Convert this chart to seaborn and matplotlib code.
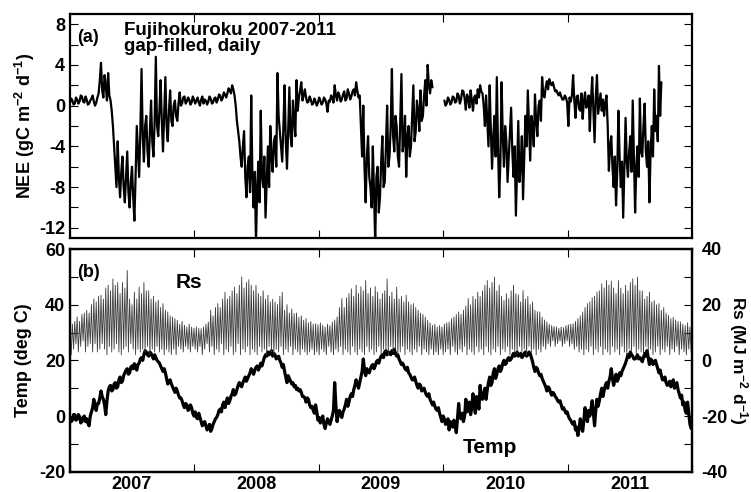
import numpy as np
import pandas as pd
import matplotlib
matplotlib.use("Agg")
import matplotlib.pyplot as plt
import seaborn as sns
from matplotlib.ticker import FixedLocator, FixedFormatter, MultipleLocator, NullFormatter

# ---------------- data (2007-01-01 .. 2011-12-31) ----------------
year_labels = ["2007", "2008", "2009", "2010", "2011"]
year_bounds = [0, 365, 731, 1096, 1461, 1826]
year_mid_days = [182, 548, 913, 1278, 1644]
nan = np.nan

# NEE (gC m-2 d-1): value at the start of each week
nee = [
    0.3, 0.5, 0.2, 0.6, 0.4, 0.9, 0.3, 0.6, 0.2, 0.7, 0.4, 0.3, 1.2,
    4.2, 0.8, 2.0, 3.2, 0.5, -2.0, -6.0, -3.5, -9.0, -5.0, -9.5, -4.5, -10.0, -6.0, -11.3, -2.0,
    -7.0, 3.6, -5.5, -1.0, -6.0, 0.5, -5.0, 4.8, -3.0, 2.5, -4.5, 2.8, -3.5, 1.5, -2.0, 0.5,
    -1.5, 1.3, 0.2, 0.9, 0.4, 0.6, 0.3, 0.6,
    0.5, 0.3, 0.6, 0.2, 0.5, 0.4, 0.7, 0.3, 0.8, 0.6, 1.0, 0.7, 1.1, 1.2, 1.5, 2.0, 1.0,
    -1.5, -3.5, -6.0, -2.5, -9.0, -5.0, 1.0, -10.0, -13.5, -5.5, -0.5, -8.0, -11.0, -4.0,
    -2.0, -6.5, -3.0, 3.2, -2.5,
    -5.5, 2.0, -6.2, 1.8, -4.0, -1.5, 2.5, 0.8, 2.3, 1.0, 0.8, 0.4, 0.6, 0.2, 0.4, 0.3,
    0.5, 0.3, 0.6, -0.6, 0.4, 0.8, 2.0, 0.5, 1.0, 0.6, 1.4, 0.7, 1.2, 0.9, 1.6, 2.3, 0.8,
    -2.0, 0.0, -9.5, -3.0, -8.0, -4.0, -13.5, -6.0, -9.0, -3.0, -7.5, 0.0, -5.0, 3.6, -4.5,
    -2.0, -6.0, 3.1, -3.5, -7.0, -2.0, -4.0, 2.0, -2.5, -0.5, 1.5, -1.0, 2.5, 4.0, 1.2, 1.8,
    nan, nan, nan, nan,
    0.5, 0.2, 0.6, 0.3, 0.8, 0.4, 1.0, 0.6, 1.4, -0.4, 0.8, 1.5, -0.5, 1.0, 1.6, 2.0, 1.2, -2.0,
    -1.5, 2.0, -6.2, -1.0, 2.8, -9.0, 2.3, -6.0, -3.5, -5.0, -0.2, -7.0, -10.8, -1.5, -6.0,
    -9.2, -1.0, 1.5, -5.4, -2.0, 1.1, -3.0, 0.5, 2.8, 0.8, 2.4, 2.6, 2.0, 1.8, 1.5, 1.0, 0.9,
    0.6, 0.8, -2.0, 0.4, 3.0, -1.2, 1.0, -0.5, -1.3, 1.3, 0.2, -2.5, 2.8, -3.6, 3.0, 0.2,
    -0.5, -1.0, 1.0, -6.4, -3.0, -8.0, -9.8, -0.5, -8.0, -11.0, -1.2, -7.0, -3.0, 0.5,
    -10.5, -4.0, 0.7, -5.0, 0.2, -6.0, -9.5, -2.0, 1.6, -1.0, 3.9, 2.3,
    nan, nan, nan, nan, nan, nan, nan, nan, nan, nan, nan, nan,
]
# NEE (gC m-2 d-1): value in the middle of each week
nee_mid = [
    0.7, 0.1, 0.8, 0.2, 1.0, 0.4, 0.9, 0.1, 0.5, 1.0, 0.0, 0.8, 2.5,
    1.5, 3.0, 0.5, 1.0, -0.5, -4.0, -8.0, -7.0, -6.5, -8.0, -7.0, -8.5, -7.5, -9.0, -7.0, -4.5,
    -2.5, -3.0, -2.0, -4.5, -2.5, -3.5, -1.5, -2.0, -0.5, -1.5, -1.0, -2.0, -0.5, -1.5, 0.0, -1.0,
    0.2, 0.0, 0.8, 0.2, 0.8, 0.1, 0.9, 0.2,
    0.8, 0.0, 0.9, 0.6, 0.1, 0.9, 0.2, 0.7, 0.3, 1.1, 0.5, 1.3, 0.8, 1.7, 1.2, 1.6, 0.0,
    -2.5, -5.0, -4.0, -7.0, -6.0, -8.5, -7.0, -6.5, -8.0, -9.5, -7.0, -5.0, -7.5, -8.0,
    -5.0, -3.5, -6.0, -1.0, -4.0,
    -2.0, -3.5, -2.5, -3.0, 0.5, -3.0, -0.5, 1.5, 0.5, 1.6, 0.3, 0.9, 0.1, 0.7, 0.0, 0.8,
    0.1, 0.8, 0.2, 0.5, 1.0, 0.3, 1.0, 1.3, 0.4, 1.1, 0.5, 1.6, 0.6, 1.4, 1.0, 1.5, 1.0,
    -5.0, -6.0, -5.0, -7.0, -10.0, -8.5, -7.0, -10.5, -5.5, -8.0, -4.0, -6.0, -2.0, -3.0, -1.0,
    -5.0, -1.5, -4.5, -1.0, -3.0, -5.0, -1.0, -3.5, 0.5, -2.5, -1.5, 1.0, 0.0, 2.0, 2.5, nan,
    nan, nan, nan, nan,
    0.0, 0.8, 0.1, 0.9, 0.3, 1.2, 0.2, 1.5, 0.7, 1.1, -0.2, 0.6, 0.8, 0.2, 0.8, 1.4, 0.0, 1.0,
    -4.0, -2.5, -3.0, -5.0, -4.0, -5.5, -3.0, -2.0, -7.5, -2.5, -4.5, -4.0, -6.0, -7.5, -3.0,
    -5.0, -4.0, -2.0, -1.0, -4.0, -1.5, 0.0, -1.5, 1.0, 1.8, 1.6, 2.2, 2.3, 1.4, 1.2, 1.3, 0.6,
    1.0, 0.3, 0.8, 1.0, 0.5, 0.9, -0.3, 1.2, 0.4, -0.2, 1.0, 0.5, -0.5, 0.8, -0.8, 1.2,
    0.6, 0.3, -2.0, -4.0, -6.0, -5.0, -6.5, -5.0, -5.5, -6.0, -5.5, -4.5, -6.5, -5.0,
    -6.0, -7.0, -4.5, -2.0, -4.5, -3.5, -4.5, -5.0, -2.5, -3.5, -1.0, nan,
    nan, nan, nan, nan, nan, nan, nan, nan, nan, nan, nan, nan,
]

# Air temperature (deg C): start and middle of each week
temp = [
    -0.5, -1.5, 0.5, -1.0, -0.2, -2.0, 0.0, -1.0, -3.5, 1.5, 6.0, 2.0, 4.5, 9.0, 6.0, 0.5,
    9.0, 11.0, 9.5, 12.0, 10.5, 14.0, 12.5, 15.5, 17.0, 15.5, 18.0, 18.8, 16.5, 19.0, 21.0,
    22.0, 23.0, 21.5, 22.5, 20.5, 21.0, 19.5, 18.0, 16.0, 15.5, 11.5, 13.0, 10.5, 8.5, 9.0,
    6.5, 5.5, 3.0, 4.0, 2.5, 3.0, 0.0,
    -0.5, 1.0, -2.0, -2.5, -3.5, -4.0, -5.5, -3.0, -1.0, 0.5, 2.5, 4.0, 3.0, 6.5, 5.5, 8.0,
    7.5, 9.5, 12.0, 10.5, 13.0, 12.5, 14.5, 17.0, 15.0, 17.5, 16.5, 19.0, 19.5, 22.0, 23.0,
    22.5, 21.5, 22.0, 21.0, 20.0,
    17.5, 16.0, 12.0, 13.5, 11.5, 10.5, 9.5, 9.0, 8.5, 7.0, 5.0, 6.0, 3.0, 2.0, 4.0, -1.5,
    -2.5, 0.0, -4.5, -1.0, -3.0, 0.0, 12.0, -2.0, 2.0, -0.5, 2.5, 6.0, 5.0, 8.0, 9.5, 13.0,
    10.0, 14.0, 20.5, 14.5, 16.0, 17.0, 18.5, 18.0, 20.0, 20.5, 22.0, 23.0, 22.0, 22.5, 23.5,
    24.0, 21.5, 20.5, 18.5, 18.0, 16.5, 15.5, 14.0, 13.0, 12.5, 10.0, 11.0, 9.5, 8.5, 7.0,
    6.0, 4.0, 3.5, 2.0, 1.0, -2.0, -1.0, -2.5, -5.0, -2.5, -1.5, -6.0, 4.5, -1.0, -2.0, 6.0,
    2.0, 0.5, 8.0, 1.0, 5.0, 11.0, 6.0, 10.0,
    9.5, 14.0, 12.0, 17.0, 15.0, 18.0, 17.0, 20.0, 19.0, 21.0, 20.5, 22.5, 22.0, 21.5, 22.5,
    21.5, 23.0, 22.0, 22.5, 19.5, 16.0, 17.0, 14.5, 13.5, 11.5, 9.0, 10.0, 7.5, 8.0, 6.5,
    5.0, 4.0, 3.0, 1.0, 0.0, -1.5, -3.0, -5.0, -7.0, -1.0, -5.5, 3.0, -2.0, 0.0, 5.5, -3.5,
    6.0, 5.5, 10.0, 9.0, 12.0, 12.5, 17.0, 11.0, 15.0, 13.5, 14.5, 17.0, 19.0, 22.0, 23.0,
    21.5, 20.5, 22.0, 21.0, 19.5, 22.5, 23.5, 18.5, 20.0, 19.0, 18.5, 15.5, 14.5, 13.0,
    12.0, 11.5, 10.5, 13.0, 11.0, 9.5, 6.5, 4.0, 2.0, 5.0, -3.0,
]
temp_mid = [
    -2.0, 0.5, -1.5, 0.5, -2.5, -0.5, -2.0, -2.5, 0.0, 3.0, 3.0, 4.5, 6.5, 7.0, 4.0, 5.5,
    10.5, 9.0, 11.5, 10.0, 13.0, 12.0, 14.5, 16.5, 15.0, 17.5, 17.0, 17.5, 18.5, 20.5, 20.0,
    23.5, 22.0, 23.0, 21.5, 22.0, 20.0, 19.0, 17.0, 17.0, 13.5, 12.5, 11.5, 9.5, 10.0, 7.5,
    6.5, 4.0, 4.5, 2.0, 4.0, 1.0, 1.5,
    -1.0, -0.5, -3.5, -2.0, -5.0, -3.0, -4.5, -2.0, -0.5, 2.0, 1.5, 5.0, 5.0, 4.5, 7.0, 9.5,
    8.0, 11.0, 11.0, 12.0, 14.0, 13.5, 15.5, 16.0, 16.5, 18.0, 17.5, 18.0, 21.0, 21.5, 22.0,
    23.5, 22.5, 20.5, 21.5, 19.0,
    18.5, 14.0, 14.5, 12.5, 12.0, 11.0, 10.0, 9.5, 7.0, 6.5, 6.5, 4.0, 3.5, 1.0, 1.5, -0.5,
    -1.5, -3.0, -2.5, -2.0, -1.5, 2.0, 4.0, 0.5, 0.5, 1.5, 4.0, 3.5, 7.0, 7.0, 11.0, 11.5,
    12.0, 16.0, 16.5, 17.0, 15.5, 18.0, 17.0, 19.5, 19.0, 21.5, 21.0, 23.5, 23.0, 22.0, 22.5,
    22.5, 22.0, 19.5, 19.0, 17.0, 17.5, 15.0, 13.0, 14.0, 11.0, 11.5, 9.0, 10.0, 7.5, 8.0,
    5.0, 5.0, 2.5, 3.0, -0.5, 0.0, -3.0, -1.0, -2.0, -4.0, -3.0, -1.0, -0.5, 1.0, 0.0, 1.5,
    5.0, 3.0, 3.5, 7.0, 2.5, 6.5, 8.0, 6.0,
    12.0, 11.0, 15.5, 13.5, 17.0, 16.0, 19.0, 18.5, 20.5, 20.0, 21.5, 21.5, 23.0, 22.0, 21.0,
    22.5, 21.5, 23.0, 21.0, 17.5, 17.5, 15.5, 15.0, 12.5, 10.5, 10.5, 8.5, 8.5, 7.0, 5.5,
    5.5, 2.5, 2.0, 1.5, -1.0, -2.5, -2.0, -4.0, -4.5, -3.5, -1.5, -0.5, 2.0, 2.5, 1.0, 2.0,
    3.5, 8.0, 7.0, 11.0, 10.0, 14.0, 13.5, 13.0, 12.5, 15.5, 16.0, 18.0, 20.5, 21.0, 22.0,
    20.5, 21.0, 20.5, 20.5, 21.0, 21.5, 21.0, 20.5, 18.5, 20.0, 17.0, 16.5, 13.0, 14.0,
    11.0, 12.5, 11.5, 10.0, 12.0, 8.0, 7.5, 5.0, 1.0, 1.0, -4.5,
]

# Solar radiation Rs (MJ m-2 d-1): weekly high (clear) and low (cloudy) values
rs_high = [
    11.4, 13, 14, 15.6, 14, 16.5, 17, 18, 17, 20, 22, 21, 23, 23.4, 22, 26, 27, 25, 29.3, 27,
    28, 24, 28, 26, 32.3, 22, 20, 24.5, 22, 26.3, 24, 28, 25, 25, 22, 23, 21, 21.6, 19, 20.4,
    18, 17.4, 16, 15.6, 15, 14.4, 13, 14, 12.6, 12, 13, 12, 11.5,
    12, 11.5, 11.4, 12, 13, 13.8, 18, 16, 19, 20.4, 19, 22, 24.5, 22, 23, 25, 26.3, 24, 27,
    30, 26, 28, 29, 27, 25, 27, 24, 23, 25, 22, 23.4, 21, 22, 21, 20,
    23, 24.5, 18, 20, 17, 18.5, 16.8, 17, 15.5, 16, 14.4, 15, 13.5, 14, 13, 13.2, 12.8,
    13.5, 12.6, 12, 13, 12.5, 13.8, 14.5, 15.6, 19, 22.2, 19, 22.5, 24, 25.7, 23, 27, 24,
    26.5, 25, 28.7, 24, 26, 23, 26.5, 24.5, 22, 24, 25, 29.3, 23, 24.5, 22, 26.3, 22, 23,
    21, 23.4, 21, 20, 20.4, 19, 18, 17, 16.5, 15.5, 14.4, 13.5, 12.6, 13, 12, 12.5, 12, 13,
    13.5, 13.8, 15, 15.6, 16.5, 17.4, 16.5, 18, 19.5, 22.2, 20, 23, 22, 24.5, 23, 25, 27,
    28.7, 26, 28, 29.9, 25, 27, 23, 21.5, 24, 22.2, 25, 27, 24, 23.5, 21, 25.1, 22, 23, 20,
    21, 18, 17.5, 17.4, 15.5, 14.5, 13.8, 13, 12.5, 12.2, 12, 11.5, 12, 11.8, 12.5, 12.8,
    13, 13.2, 14, 15, 16, 17.4, 19, 20.4, 21, 22.5, 23, 24.5, 25, 27.5, 26, 28.7, 27, 28.5,
    26, 24, 28.7, 26, 24, 27, 25, 28, 29.3, 27, 29.9, 25, 25, 22, 23, 24.5, 21, 21.5, 20,
    20.4, 18, 19, 17, 16.2, 15, 15.5, 14.5, 14, 13.8, 13, 12.5, 13.5, 12,
]
rs_low = [
    2, 4, 6, 3, 5, 7, 3, 5, 6, 3, 6, 3, 4,
    6, 4, 2, 5, 3, 4, 6, 3, 2, 4, 5, 3, 6,
    4, 2, 4, 3, 4, 3, 5, 2, 4, 3, 5, 3, 4,
    2, 4, 3, 2, 4, 2, 5, 4, 3, 5, 4, 3, 5,
    4, 3, 5, 2, 4, 6, 3, 5, 2, 4, 3, 6, 2,
    4, 3, 5, 2, 3, 6, 2, 4, 3, 5, 2, 4, 3,
    2, 5, 3, 4, 2, 5, 3, 2, 4, 3, 5, 2, 4,
    3, 5, 2, 4, 3, 2, 4, 3, 2, 3, 4, 2, 3,
    2, 4, 3, 2, 5, 3, 2, 4, 3, 5, 2, 4, 3,
    2, 5, 3, 2, 4, 3, 2, 5, 3, 4, 2, 3, 5,
    2, 4, 3, 2, 5, 3, 4, 2, 3, 5, 2, 4, 3,
    2, 4, 3, 5, 2, 4, 3, 2, 4, 2, 3, 2, 4,
    2, 3, 4, 2, 5, 3, 2, 4, 3, 5, 2, 4, 3,
    2, 5, 3, 4, 2, 5, 3, 2, 4, 3, 5, 2, 4,
    3, 5, 2, 4, 3, 2, 5, 3, 4, 2, 5, 3, 4,
    2, 4, 3, 5, 4, 6, 5, 7, 5, 6, 7, 5, 6,
    7, 5, 6, 4, 5, 3, 4, 2, 4, 3, 5, 2, 4,
    3, 5, 2, 4, 3, 2, 5, 3, 4, 2, 5, 3, 2,
    4, 3, 5, 2, 4, 3, 2, 5, 3, 4, 2, 3, 5,
    2, 4, 3, 5, 2, 4, 3, 5, 2, 4, 3, 2, 4,
    3,
]

# ---------------- tables for seaborn ----------------
week_days = np.arange(len(temp)) * 7.0
half_days = np.column_stack([week_days, week_days + 3.5]).ravel()

nee_vals = np.column_stack([nee, nee_mid]).ravel().astype(float)
df_nee = pd.DataFrame({"day": half_days, "NEE": nee_vals,
                       "seg": np.cumsum(np.isnan(nee_vals))}).dropna()
df_temp = pd.DataFrame({"day": half_days,
                        "Temp": np.column_stack([temp, temp_mid]).ravel()})
df_rs = pd.DataFrame({"day": half_days,
                      "Rs": np.column_stack([rs_high, rs_low]).ravel()})

# ---------------- style ----------------
sns.set_style("ticks")
plt.rcParams['font.family'] = ['Liberation Sans', 'DejaVu Sans']
plt.rcParams.update({
    'font.weight': 'bold',
    'axes.labelweight': 'bold',
    'axes.unicode_minus': False,
    'text.color': 'black',
    'axes.labelcolor': 'black',
    'xtick.color': 'black',
    'ytick.color': 'black',
    'mathtext.fontset': 'custom',
    'mathtext.rm': 'Liberation Sans:bold',
    'mathtext.bf': 'Liberation Sans:bold',
    'mathtext.it': 'Liberation Sans:bold',
    'mathtext.default': 'bf',
    'axes.linewidth': 1.6,
    'axes.edgecolor': 'black',
})

W, H = 751, 492
fig = plt.figure(figsize=(W / 100, H / 100), dpi=100)


def px_axes(l, t, r, b):
    return fig.add_axes([l / W, 1 - b / H, (r - l) / W, (b - t) / H])


ax1 = px_axes(70, 14, 692, 238)
ax2 = px_axes(70, 249, 692, 471.7)
ax2r = ax2.twinx()

sns.lineplot(data=df_nee, x="day", y="NEE", units="seg", estimator=None,
             color="black", lw=1.6, ax=ax1)
sns.lineplot(data=df_rs, x="day", y="Rs", estimator=None,
             color="#3c3c3c", lw=0.6, ax=ax2r)
sns.lineplot(data=df_temp, x="day", y="Temp", estimator=None,
             color="black", lw=2.3, ax=ax2)

# ---------------- axes ----------------
ax1.set_ylim(-13, 9)
ax2.set_ylim(-20, 60)
ax2r.set_ylim(-40, 40)
ax1.yaxis.set_major_locator(MultipleLocator(4))
ax1.yaxis.set_minor_locator(MultipleLocator(2))
for a in (ax2, ax2r):
    a.yaxis.set_major_locator(MultipleLocator(20))
    a.yaxis.set_minor_locator(MultipleLocator(10))

for a in (ax1, ax2):
    a.set_xlim(0, 1826)
    a.xaxis.set_major_locator(FixedLocator(year_bounds))
    a.xaxis.set_major_formatter(NullFormatter())
    a.xaxis.set_minor_locator(FixedLocator(year_mid_days))
    a.xaxis.set_minor_formatter(FixedFormatter(year_labels))
    a.tick_params(which='both', direction='in', length=6, width=0.8, top=True,
                  labelsize=13, pad=3.5, color='black', labelcolor='black')
    a.tick_params(axis='x', which='minor', length=0, pad=3)
    a.set_xlabel("")
    for s in a.spines.values():
        s.set_linewidth(1.6)

ax1.tick_params(axis='y', which='both', right=True, labelright=False)
ax1.tick_params(axis='x', which='both', labelbottom=False)
ax2.tick_params(axis='y', which='both', right=False)
ax2r.tick_params(axis='y', which='both', direction='in', length=6, width=0.8,
                 right=True, labelsize=13, pad=7, color='black', labelcolor='black')
for s in ax2r.spines.values():
    s.set_linewidth(1.6)

ax1.set_ylabel("NEE (gC m$^{-2}$ d$^{-1}$)", fontsize=13, fontweight='bold')
ax1.yaxis.set_label_coords(-0.053, 0.5)
ax2.set_ylabel("Temp (deg C)", fontsize=13, fontweight='bold')
ax2.yaxis.set_label_coords(-0.061, 0.5)
ax2r.set_ylabel("Rs (MJ m$^{-2}$ d$^{-1}$)", fontsize=12.5, fontweight='bold',
                rotation=270, va='bottom')
ax2r.yaxis.set_label_coords(1.057, 0.5)
ax2r.set_xlabel("")

# ---------------- annotations ----------------
def ftext(x, y, s, size):
    fig.text(x / W, 1 - y / H, s, fontsize=size, fontweight='bold',
             ha='left', va='baseline', color='black')


ftext(77, 42, "(a)", 13)
ftext(124, 35, "Fujihokuroku 2007-2011", 13.5)
ftext(124, 51, "gap-filled, daily", 13.5)
ftext(77, 277, "(b)", 13)
ftext(176, 288, "Rs", 15)
ftext(463, 453, "Temp", 15)

fig.savefig("out.png", dpi=100)
